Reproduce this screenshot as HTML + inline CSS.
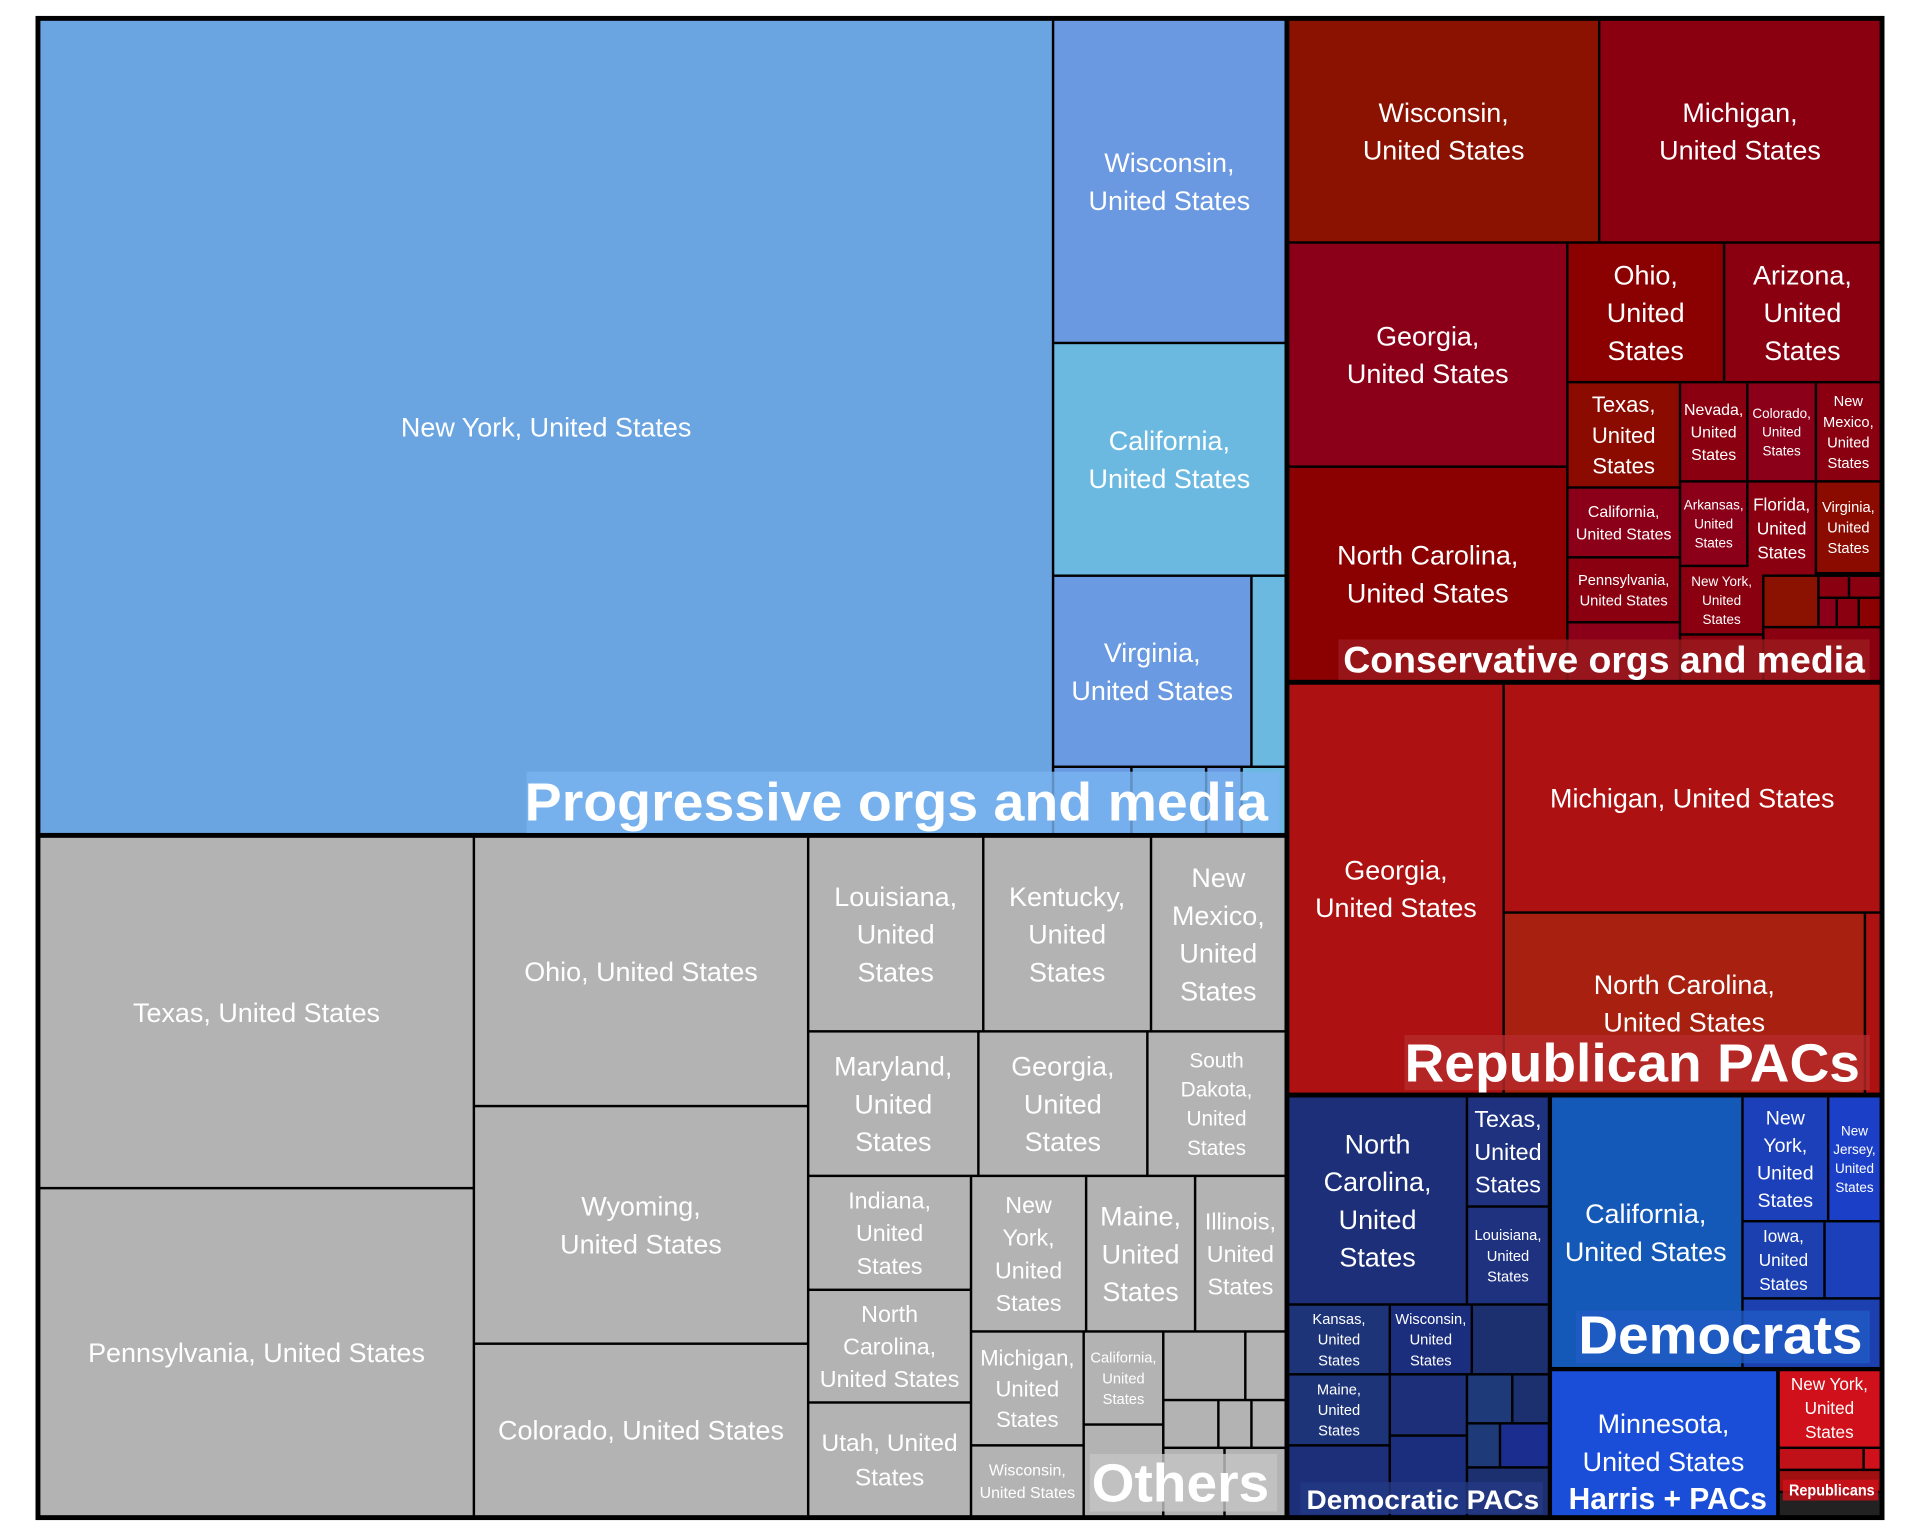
<!DOCTYPE html>
<html><head><meta charset="utf-8"><style>
html,body{margin:0;padding:0;background:#fff}
svg{display:block}
text{font-family:"Liberation Sans",sans-serif;fill:#fff;text-anchor:middle}
</style></head><body>
<svg id="chart" width="1920" height="1536" viewBox="0 0 1568 1254" preserveAspectRatio="none" xmlns="http://www.w3.org/2000/svg">
<rect x="0" y="0" width="1568" height="1254" fill="#fff"/>
<rect x="29" y="13" width="1510" height="1228" fill="#000"/>
<g id="cells"></g>
<g id="groups"></g>
</svg>
<script>
// tile layout of the treemap: [label, color, x0, y0, x1, y1, fontSize]
const progressiveTiles = [
 ["New York, United States","#6aa5e1",32,16,860,681,22],
 ["Wisconsin,|United States","#6a98e1",860,16,1050,280,22],
 ["California,|United States","#6bb9e1",860,280,1050,470,22],
 ["Virginia,|United States","#6a9ae1",860,470,1022,626,22],
 ["","#6bb9e1",1022,470,1050,626,0],
 ["","#6a9ae1",860,626,924,681,0],["","#6aa5e1",924,626,985,681,0],["","#6a98e1",985,626,1014,681,0],["","#6bb9e1",1014,626,1050,681,0]
];
const otherTiles = [
 ["Texas, United States","#b3b3b3",32,683,387,970,22],
 ["Pennsylvania, United States","#b3b3b3",32,970,387,1238,22],
 ["Ohio, United States","#b3b3b3",387,683,660,903,22],
 ["Wyoming,|United States","#b3b3b3",387,903,660,1097,22],
 ["Colorado, United States","#b3b3b3",387,1097,660,1238,22],
 ["Louisiana,|United|States","#b3b3b3",660,683,803,842,22],
 ["Kentucky,|United|States","#b3b3b3",803,683,940,842,22],
 ["New|Mexico,|United|States","#b3b3b3",940,683,1050,842,22],
 ["Maryland,|United|States","#b3b3b3",660,842,799,960,22],
 ["Georgia,|United|States","#b3b3b3",799,842,937,960,22],
 ["South|Dakota,|United|States","#b3b3b3",937,842,1050,960,17],
 ["Indiana,|United|States","#b3b3b3",660,960,793,1053,19],
 ["North|Carolina,|United States","#b3b3b3",660,1053,793,1145,19],
 ["Utah, United|States","#b3b3b3",660,1145,793,1238,20],
 ["New|York,|United|States","#b3b3b3",793,960,887,1087,19],
 ["Maine,|United|States","#b3b3b3",887,960,976,1087,22],
 ["Illinois,|United|States","#b3b3b3",976,960,1050,1087,19],
 ["Michigan,|United|States","#b3b3b3",793,1087,885,1180,18],
 ["Wisconsin,|United States","#b3b3b3",793,1180,885,1238,13],
 ["California,|United|States","#b3b3b3",885,1087,950,1163,12],
 ["","#b3b3b3",950,1087,1017,1143,0],["","#b3b3b3",1017,1087,1050,1143,0],
 ["","#b3b3b3",950,1143,995,1182,0],["","#b3b3b3",995,1143,1022,1182,0],["","#b3b3b3",1022,1143,1050,1182,0],
 ["","#b3b3b3",885,1163,950,1238,0],["","#b3b3b3",950,1182,1000,1238,0],["","#b3b3b3",1000,1182,1050,1238,0]
];
const conservativeTiles = [
 ["Wisconsin,|United States","#8b1200",1052,16,1306,198,22],
 ["Michigan,|United States","#8b0010",1306,16,1536,198,22],
 ["Georgia,|United States","#8b0018",1052,198,1280,381,22],
 ["North Carolina,|United States","#8b0000",1052,381,1280,556,22],
 ["Ohio,|United|States","#8b0000",1280,198,1408,312,22],
 ["Arizona,|United|States","#8b0010",1408,198,1536,312,22],
 ["Texas,|United|States","#8b0b00",1280,312,1372,398,18],
 ["Nevada,|United|States","#8b0010",1372,312,1427,393,13],
 ["Colorado,|United|States","#8b0018",1427,312,1483,393,11],
 ["New|Mexico,|United|States","#8b0010",1483,312,1536,393,12],
 ["California,|United States","#8b0018",1280,398,1372,455,13],
 ["Pennsylvania,|United States","#8b0010",1280,455,1372,508,12],
 ["","#8b0018",1280,508,1372,556,0],
 ["Arkansas,|United|States","#8b0018",1372,393,1427,462,11],
 ["Florida,|United|States","#8b0010",1427,393,1483,470,14],
 ["Virginia,|United|States","#8b0b00",1483,393,1536,468,12],
 ["New York,|United|States","#8b0010",1372,462,1440,518,11],
 ["","#8b1200",1440,470,1485,512,0],["","#8b0010",1485,470,1510,488,0],["","#8b0010",1510,470,1536,488,0],
 ["","#8b0018",1485,488,1500,512,0],["","#8b0010",1500,488,1518,512,0],["","#8b0000",1518,488,1536,512,0],
 ["","#8b0010",1372,518,1440,556,0],["","#8b0010",1440,512,1536,556,0]
];
const republicanTiles = [
 ["Georgia,|United States","#ad1111",1052,558,1228,893,22],
 ["Michigan, United States","#ad1111",1228,558,1536,745,22],
 ["North Carolina,|United States","#a82010",1228,745,1523,893,22],
 ["","#ad1111",1523,745,1536,893,0]
];
const democraticPacTiles = [
 ["North|Carolina,|United|States","#1c2f78",1052,895,1198,1065,22],
 ["Texas,|United|States","#1e3280",1198,895,1265,985,19],
 ["Louisiana,|United|States","#1e3280",1198,985,1265,1065,12],
 ["Kansas,|United|States","#1d3478",1052,1065,1135,1122,12],
 ["Wisconsin,|United|States","#1b2e7e",1135,1065,1202,1122,12],
 ["","#1c3070",1202,1065,1265,1122,0],
 ["Maine,|United|States","#1d3478",1052,1122,1135,1180,12],
 ["","#1c2f78",1135,1122,1198,1172,0],["","#1e3a78",1198,1122,1235,1162,0],["","#1c3070",1235,1122,1265,1162,0],
 ["","#1c2f78",1052,1180,1135,1238,0],["","#1b2e7e",1135,1172,1198,1238,0],
 ["","#1e3a78",1198,1162,1225,1198,0],["","#1b2e90",1225,1162,1265,1198,0],["","#1c3070",1198,1198,1265,1238,0]
];
const democratTiles = [
 ["California,|United States","#1559b8",1265,895,1423,1117,22],
 ["New|York,|United|States","#1c3fba",1423,895,1493,997,16],
 ["New|Jersey,|United|States","#1c3fc8",1493,895,1536,997,11],
 ["Iowa,|United|States","#1c40b0",1423,997,1490,1060,14],
 ["","#1c3fba",1490,997,1536,1060,0],
 ["","#1c40b0",1423,1060,1536,1117,0]
];
const harrisTiles = [["Minnesota,|United States","#1a4ed8",1265,1117,1452,1238,22]];
const republicanPartyTiles = [
 ["New York,|United|States","#d0101a",1452,1117,1536,1182,14],
 ["","#c01018",1452,1182,1522,1200,0],["","#d0101a",1522,1182,1536,1200,0],
 ["","#a01010",1452,1200,1536,1218,0],["","#222",1452,1218,1536,1238,0]
];
// group headers: [label, x-right-or-center, baseline, size, bgColor, bgX0, bgX1, bgY0, bgY1]
const groupLabels = [
 ["Progressive orgs and media",732,670,44,"#79b4f0",430,1045,630,680],
 ["Conservative orgs and media",1310,549,30,"#9a1a1e",1093,1527,522,555],
 ["Republican PACs",1333,883,44,"#b52a2a",1147,1527,845,890],
 ["Democrats",1405,1105,44,"#1f5ac4",1287,1527,1070,1113],
 ["Democratic PACs",1162,1232,22,"#243a85",1062,1260,1210,1236],
 ["Harris + PACs",1362,1232,25,"#1a4ed8",1278,1448,1208,1236],
 ["Republicans",1496,1221,13,"#d0101a",1456,1534,1208,1225],
 ["Others",964,1226,44,"#c4c4c4",890,1043,1187,1234]
];
const groupNames=["progressive","others","conservative","republican-pacs","democratic-pacs","democrats","harris-pacs","republicans"];
const allGroups=[progressiveTiles,otherTiles,conservativeTiles,republicanTiles,democraticPacTiles,democratTiles,harrisTiles,republicanPartyTiles];
const NS="http://www.w3.org/2000/svg";
const cells=document.getElementById('cells');
allGroups.forEach((tiles,gi)=>{
 tiles.forEach((t,i)=>{
  const [label,color,x0,y0,x1,y1,fs]=t;
  const r=document.createElementNS(NS,'rect');
  r.setAttribute('x',x0+1);r.setAttribute('y',y0+1);
  r.setAttribute('width',Math.max(0,x1-x0-2));r.setAttribute('height',Math.max(0,y1-y0-2));
  r.setAttribute('fill',color);
  const nm=(label?label.split(',')[0].toLowerCase().replace(/[^a-z]+/g,'-'):'small')+'-'+groupNames[gi]+'-tile';
  
  
  cells.appendChild(r);
  if(label){
   const lines=label.split('|');
   const lh=fs*1.4;
   const cx=(x0+x1)/2, cy=(y0+y1)/2 - (lines.length-1)*lh/2 + fs*0.36;
   const tx=document.createElementNS(NS,'text');
   tx.setAttribute('font-size',fs);
   
   
   lines.forEach((ln,k)=>{
    const sp=document.createElementNS(NS,'tspan');
    sp.setAttribute('x',cx);sp.setAttribute('y',cy+k*lh);
    sp.textContent=ln;tx.appendChild(sp);
   });
   cells.appendChild(tx);
  }
 });
});
// group separators
const seps=[[32,682,1050,682],[1051,16,1051,1238],[1052,557,1536,557],[1052,894,1536,894],[1266,895,1266,1238],[1265,1118,1536,1118],[1452,1118,1452,1238]];
seps.forEach(s=>{const l=document.createElementNS(NS,'line');
 l.setAttribute('x1',s[0]);l.setAttribute('y1',s[1]);l.setAttribute('x2',s[2]);l.setAttribute('y2',s[3]);
 l.setAttribute('stroke','#000');l.setAttribute('stroke-width',3);
 
 
 cells.appendChild(l);});
const gl=document.getElementById('groups');
groupLabels.forEach(g=>{
 const [label,cx,by,fs,bg,bx0,bx1,by0,by1]=g;
 const r=document.createElementNS(NS,'rect');
 r.setAttribute('x',bx0);r.setAttribute('y',by0);r.setAttribute('width',bx1-bx0);r.setAttribute('height',by1-by0);
 r.setAttribute('fill',bg);r.setAttribute('opacity',0.8);
 
 
 gl.appendChild(r);
 const t=document.createElementNS(NS,'text');
 t.setAttribute('x',cx);t.setAttribute('y',by);t.setAttribute('font-size',fs);t.setAttribute('font-weight','bold');
 t.setAttribute('textLength',bx1-bx0-8);t.setAttribute('lengthAdjust','spacingAndGlyphs');
 t.textContent=label;
 
 
 gl.appendChild(t);
});
</script>
</body></html>
